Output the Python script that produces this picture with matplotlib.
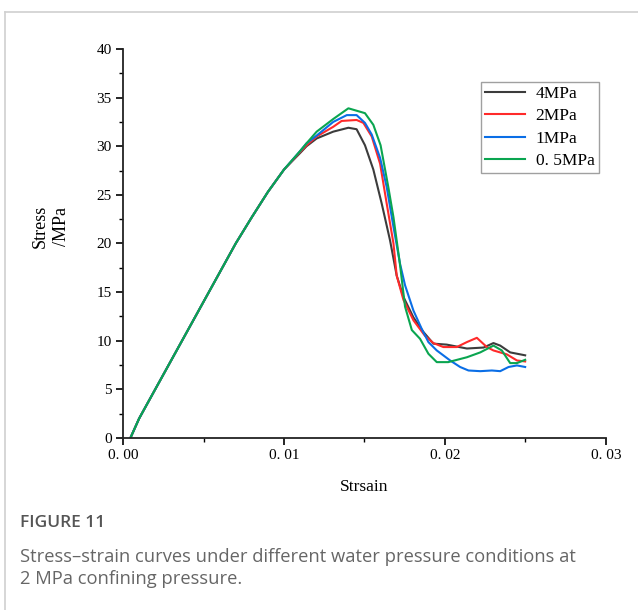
import numpy as np
import matplotlib.pyplot as plt
from matplotlib.lines import Line2D
from matplotlib.ticker import MultipleLocator, FuncFormatter

# shared rising branch (all four curves lie on top of each other here)
rise_x = [0.00046, 0.0010, 0.0020, 0.0030, 0.0040, 0.0050, 0.0060, 0.0070, 0.0080, 0.0090, 0.0100]
rise_y = [0.0, 2.0, 5.0, 8.0, 11.0, 14.0, 17.0, 20.0, 22.7, 25.3, 27.6]

x_4mpa = [0.0110, 0.0114, 0.01203, 0.01306, 0.0140, 0.01451, 0.01503, 0.01555, 0.01607, 0.01659,
          0.0170, 0.01742, 0.01804, 0.01866, 0.01928, 0.02011, 0.02136, 0.0224, 0.02301, 0.02343,
          0.02405, 0.02498]
y_4mpa = [29.3, 30.0, 30.8, 31.5, 31.9, 31.75, 30.1, 27.6, 24.1, 20.3,
          16.7, 14.5, 12.4, 10.9, 9.7, 9.6, 9.2, 9.3, 9.76, 9.5,
          8.8, 8.5]

x_2mpa = [0.0110, 0.0114, 0.01203, 0.01306, 0.01358, 0.01451, 0.01493, 0.01545, 0.01597, 0.01638,
          0.0168, 0.0170, 0.01742, 0.01804, 0.01876, 0.01928, 0.0199, 0.02073, 0.02136, 0.02198,
          0.0226, 0.02301, 0.02384, 0.02447, 0.02498]
y_2mpa = [29.4, 30.1, 31.0, 32.0, 32.6, 32.7, 32.4, 31.0, 28.2, 24.1,
          20.0, 16.7, 14.2, 12.1, 10.5, 9.76, 9.35, 9.35, 9.86, 10.3,
          9.35, 9.0, 8.6, 7.97, 7.87]

x_1mpa = [0.0110, 0.0114, 0.01203, 0.01306, 0.0139, 0.01451, 0.01503, 0.01545, 0.01597, 0.01638,
          0.0168, 0.01721, 0.01752, 0.01804, 0.01856, 0.01897, 0.01949, 0.02032, 0.02094, 0.02146,
          0.02219, 0.02291, 0.02343, 0.02395, 0.02447, 0.02498]
y_1mpa = [29.5, 30.3, 31.1, 32.5, 33.2, 33.2, 32.4, 31.2, 28.8, 25.8,
          21.7, 17.9, 15.7, 13.1, 11.2, 9.86, 9.0, 7.97, 7.3, 6.94,
          6.87, 6.94, 6.87, 7.3, 7.46, 7.3]

x_05mpa = [0.0110, 0.0114, 0.01203, 0.01306, 0.0140, 0.01503, 0.01555, 0.0160, 0.01648, 0.0168,
           0.0172, 0.01752, 0.01794, 0.01845, 0.01897, 0.01949, 0.0202, 0.02136, 0.02219, 0.02301,
           0.02353, 0.02405, 0.02447, 0.02498]
y_05mpa = [29.5, 30.3, 31.5, 32.8, 33.9, 33.4, 32.2, 30.1, 25.8, 22.7,
           17.9, 13.5, 11.1, 10.2, 8.66, 7.8, 7.8, 8.3, 8.8, 9.5,
           9.0, 7.7, 7.7, 8.04]

labels = ['4MPa', '2MPa', '1MPa', '0. 5MPa']
colors = ['#3c3c3c', '#ff2a2a', '#0a6ee6', '#0aa550']
series = [(x_4mpa, y_4mpa), (x_2mpa, y_2mpa), (x_1mpa, y_1mpa), (x_05mpa, y_05mpa)]

serif = ['Liberation Serif', 'DejaVu Serif']

fig = plt.figure(figsize=(6.38, 6.10), dpi=100)
ax = fig.add_axes([0.1928, 0.2820, 0.757, 0.6377])

# draw the green curve last like in the original
for (xs, ys), c, lab in zip(series, colors, labels):
    ax.plot(rise_x + xs, rise_y + ys, color=c, lw=1.5, label=lab)

ax.set_xlim(0, 0.03)
ax.set_ylim(0, 40)
ax.xaxis.set_major_locator(MultipleLocator(0.01))
ax.xaxis.set_minor_locator(MultipleLocator(0.005))
ax.yaxis.set_major_locator(MultipleLocator(5))
ax.yaxis.set_minor_locator(MultipleLocator(2.5))
ax.xaxis.set_major_formatter(FuncFormatter(lambda v, p: ('%.2f' % v).replace('.', '. ')))
ax.tick_params(which='major', direction='out', length=5, width=1.2, labelsize=11, pad=3)
ax.tick_params(which='minor', direction='out', length=3, width=1.0)
for t in ax.get_xticklabels() + ax.get_yticklabels():
    t.set_family(serif)
for s in ['top', 'right']:
    ax.spines[s].set_visible(False)
for s in ['left', 'bottom']:
    ax.spines[s].set_linewidth(1.3)
    ax.spines[s].set_color('#222222')

handles = [Line2D([], [], color=c, lw=1.5) for c in colors]
leg = ax.legend(handles, labels, loc='upper left', bbox_to_anchor=(0.741, 0.916),
                prop={'family': serif, 'size': 12.5}, frameon=True, fancybox=False,
                handlelength=2.3, handletextpad=0.6, borderpad=0.25, labelspacing=0.35,
                borderaxespad=0)
leg.get_frame().set_edgecolor('#888888')
leg.get_frame().set_linewidth(1.0)

ax.set_xlabel('Strsain', family=serif, fontsize=12.5, labelpad=12)
fig.text(0.063, 1 - 226 / 610, 'Stress', rotation=90, ha='center', va='center', family=serif,
         fontsize=13)
fig.text(0.097, 1 - 226 / 610, '/MPa', rotation=90, ha='center', va='center', family=serif,
         fontsize=13)

# card frame
fig.add_artist(Line2D([5 / 638, 1], [1 - 12 / 610, 1 - 12 / 610], color='#d0d0d0', lw=1.2))
fig.add_artist(Line2D([5 / 638, 5 / 638], [0, 1 - 12 / 610], color='#d0d0d0', lw=1.2))

fig.text(20 / 638, 1 - 523 / 610, 'FIGURE 11', ha='left', va='center',
         family='Open Sans', fontsize=12.5, fontweight='semibold', color='#555555')
fig.text(20 / 638, 1 - 568 / 610,
         'Stress\u2013strain curves under different water pressure conditions at\n2 MPa confining pressure.',
         ha='left', va='center', family='Open Sans', fontsize=13.2, color='#666666', linespacing=1.35)

fig.savefig('out.png', dpi=100)
